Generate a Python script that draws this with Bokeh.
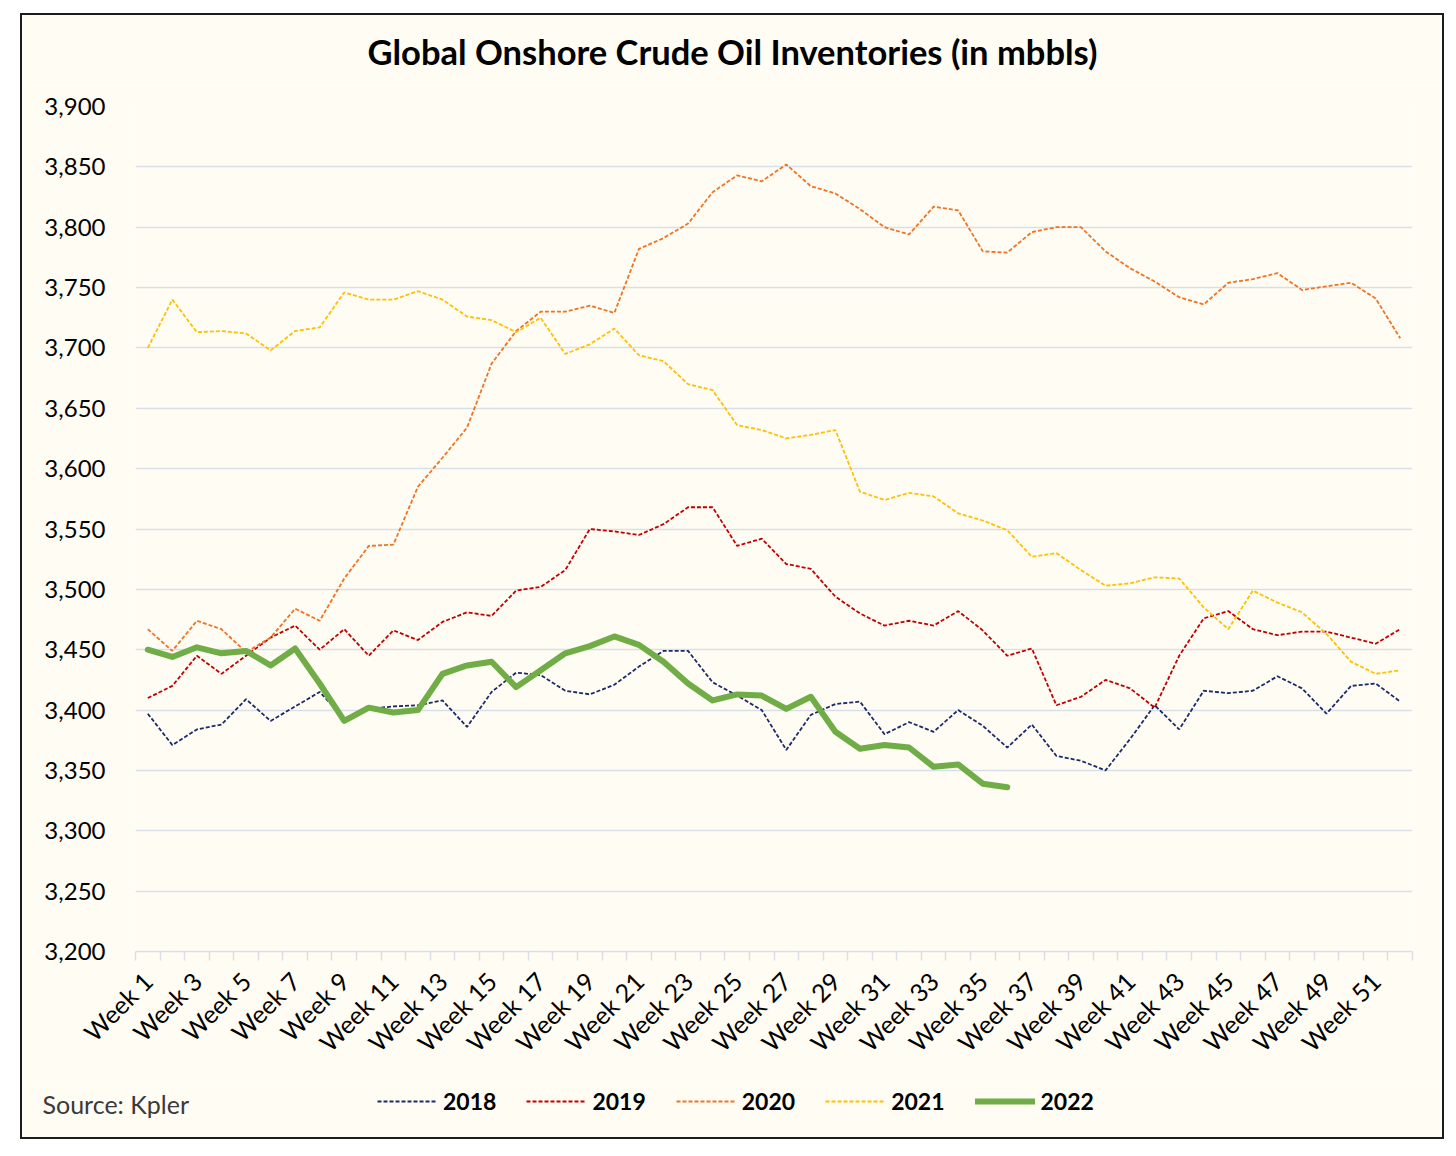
import math
from bokeh.plotting import figure
from bokeh.layouts import column
from bokeh.models import Range1d, FixedTicker, Legend, LegendItem, Label, NumeralTickFormatter
from bokeh.embed import file_html
from bokeh.resources import INLINE

# ---------------- data ----------------
weeks = [f"Week {i}" for i in range(1, 53)]
y_ticks = [3200, 3250, 3300, 3350, 3400, 3450, 3500, 3550, 3600, 3650, 3700, 3750, 3800, 3850, 3900]

v2018 = [3397, 3371, 3384, 3388, 3409, 3391, 3403, 3415, 3393, 3401,
         3403, 3404, 3408, 3386, 3415, 3431, 3429, 3416, 3413, 3421,
         3436, 3449, 3449, 3423, 3412, 3400, 3367, 3396, 3405, 3407,
         3380, 3390, 3382, 3400, 3387, 3369, 3388, 3362, 3358, 3350,
         3376, 3404, 3384, 3416, 3414, 3416, 3428, 3418, 3397, 3420,
         3422, 3407]
v2019 = [3410, 3420, 3445, 3430, 3445, 3460, 3470, 3450, 3467, 3445,
         3466, 3458, 3473, 3481, 3478, 3499, 3502, 3516, 3550, 3548,
         3545, 3554, 3568, 3568, 3536, 3542, 3521, 3517, 3494, 3480,
         3470, 3474, 3470, 3482, 3466, 3445, 3451, 3404, 3411, 3425,
         3418, 3402, 3445, 3476, 3482, 3467, 3462, 3465, 3465, 3460,
         3455, 3467]
v2020 = [3467, 3449, 3474, 3467, 3448, 3460, 3484, 3474, 3509, 3536,
         3537, 3585, 3609, 3634, 3687, 3714, 3730, 3730, 3735, 3729,
         3782, 3791, 3803, 3829, 3843, 3838, 3852, 3834, 3828, 3815,
         3800, 3794, 3817, 3814, 3780, 3779, 3796, 3800, 3800, 3780,
         3766, 3755, 3742, 3736, 3754, 3757, 3762, 3748, 3751, 3754,
         3741, 3708]
v2021 = [3700, 3740, 3713, 3714, 3712, 3698, 3714, 3717, 3746, 3740,
         3740, 3747, 3740, 3726, 3723, 3713, 3725, 3695, 3703, 3716,
         3694, 3689, 3670, 3665, 3636, 3632, 3625, 3628, 3632, 3581,
         3574, 3580, 3577, 3563, 3557, 3549, 3527, 3530, 3516, 3503,
         3505, 3510, 3509, 3485, 3467, 3499, 3489, 3481, 3463, 3440,
         3430, 3433]
v2022 = [3450, 3444, 3452, 3447, 3449, 3437, 3451, 3422, 3391, 3402,
         3398, 3400, 3430, 3437, 3440, 3419, 3433, 3447, 3453, 3461,
         3454, 3440, 3422, 3408, 3413, 3412, 3401, 3411, 3382, 3368,
         3371, 3369, 3353, 3355, 3339, 3336]

series_names = ["2018", "2019", "2020", "2021", "2022"]
series_values = [v2018, v2019, v2020, v2021, v2022]
series_colors = ["#1B2A6B", "#C00000", "#F07322", "#FFC000", "#70AD47"]

title_text = "Global Onshore Crude Oil Inventories (in mbbls)"
source_text = "Source: Kpler"

# ---------------- styles ----------------
BG = "#FFFCF3"
GRID = "#D9DFE8"
FONT = "Lato"
EDGE = "2px solid #1c1c1c"
W = 1424


def line_style(name, col):
    if name == "2022":
        return dict(line_color=col, line_width=6, line_join="round", line_cap="round")
    return dict(line_color=col, line_width=1.8, line_dash="4 2")


def strip(height, styles):
    f = figure(width=W, height=height, output_backend="svg", toolbar_location=None,
               x_range=Range1d(0, W - 4), y_range=Range1d(0, 100),
               x_axis_type=None, y_axis_type=None,
               min_border_left=0, min_border_right=0, min_border_top=0, min_border_bottom=0,
               background_fill_color=BG, border_fill_color=BG, outline_line_color=None,
               styles=styles)
    f.frame_align = False
    f.xgrid.visible = False
    f.ygrid.visible = False
    return f


# ---------------- title strip ----------------
t = strip(72, {"border-left": EDGE, "border-right": EDGE, "border-top": EDGE})
t.add_layout(Label(x=710, y=36, x_units="screen", y_units="screen", text=title_text,
                   text_align="center", text_baseline="middle", text_font=FONT,
                   text_font_style="bold", text_font_size="34.5px", text_color="#000000"))

# ---------------- main chart ----------------
p = figure(width=W, height=1000, output_backend="svg", toolbar_location=None,
           x_range=Range1d(0.5, 52.5), y_range=Range1d(3200, 3900),
           min_border_left=113, min_border_right=34, min_border_top=21, min_border_bottom=134,
           background_fill_color=BG, border_fill_color=BG, outline_line_color=None,
           styles={"border-left": EDGE, "border-right": EDGE})
p.frame_align = False

p.yaxis.ticker = FixedTicker(ticks=y_ticks)
p.yaxis.formatter = NumeralTickFormatter(format="0,0")
p.yaxis.axis_line_color = None
p.yaxis.major_tick_line_color = None
p.yaxis.minor_tick_line_color = None
p.yaxis.major_tick_out = 0
p.yaxis.major_label_standoff = 30
p.yaxis.major_label_text_font = FONT
p.yaxis.major_label_text_font_size = "24px"
p.yaxis.major_label_text_color = "#000000"

p.ygrid.ticker = FixedTicker(ticks=y_ticks)
p.ygrid.grid_line_color = GRID
p.ygrid.grid_line_width = 1.5
p.xgrid.visible = False

xpos = list(range(1, len(weeks) + 1))
p.xaxis.ticker = FixedTicker(ticks=xpos[::2], minor_ticks=[x - 0.5 for x in xpos] + [len(weeks) + 0.5])
p.xaxis.major_label_overrides = {x: weeks[x - 1] for x in xpos}
p.xaxis.major_label_orientation = math.pi / 4
p.xaxis.axis_line_color = GRID
p.xaxis.axis_line_width = 1.5
p.xaxis.major_tick_line_color = None
p.xaxis.major_tick_out = 0
p.xaxis.major_tick_in = 0
p.xaxis.minor_tick_line_color = GRID
p.xaxis.minor_tick_line_width = 1.5
p.xaxis.minor_tick_out = 9
p.xaxis.minor_tick_in = 0
p.xaxis.major_label_standoff = 16
p.xaxis.major_label_text_font = FONT
p.xaxis.major_label_text_font_size = "25px"
p.xaxis.major_label_text_color = "#000000"

for name, vals, col in zip(series_names, series_values, series_colors):
    p.line(xpos[:len(vals)], vals, **line_style(name, col))

# ---------------- legend strip ----------------
q = strip(54, {"border-left": EDGE, "border-right": EDGE, "border-bottom": EDGE})
q.y_range = Range1d(0, 52)

# legend keys: styled like the chart lines, drawn off-canvas so only the key shows
items = []
for name, col in zip(series_names, series_colors):
    r = q.line([-200, -100], [-50, -50], **line_style(name, col))
    items.append(LegendItem(label=name, renderers=[r]))

legend = Legend(items=items, location=(355, 24), orientation="horizontal",
                background_fill_alpha=0, border_line_color=None,
                label_text_font=FONT, label_text_font_style="bold", label_text_font_size="23px",
                label_text_color="#000000",
                glyph_width=60, glyph_height=26, label_standoff=6, spacing=30,
                padding=0, margin=0)
q.add_layout(legend)

q.add_layout(Label(x=20, y=36, x_units="screen", y_units="screen", text=source_text,
                   text_align="left", text_baseline="middle", text_font=FONT,
                   text_font_size="25px", text_color="#3a3a3a"))

layout = column(t, p, q, spacing=0, styles={"margin-left": "20px", "margin-top": "13px"})

open("out.html", "w").write(file_html(layout, INLINE))
